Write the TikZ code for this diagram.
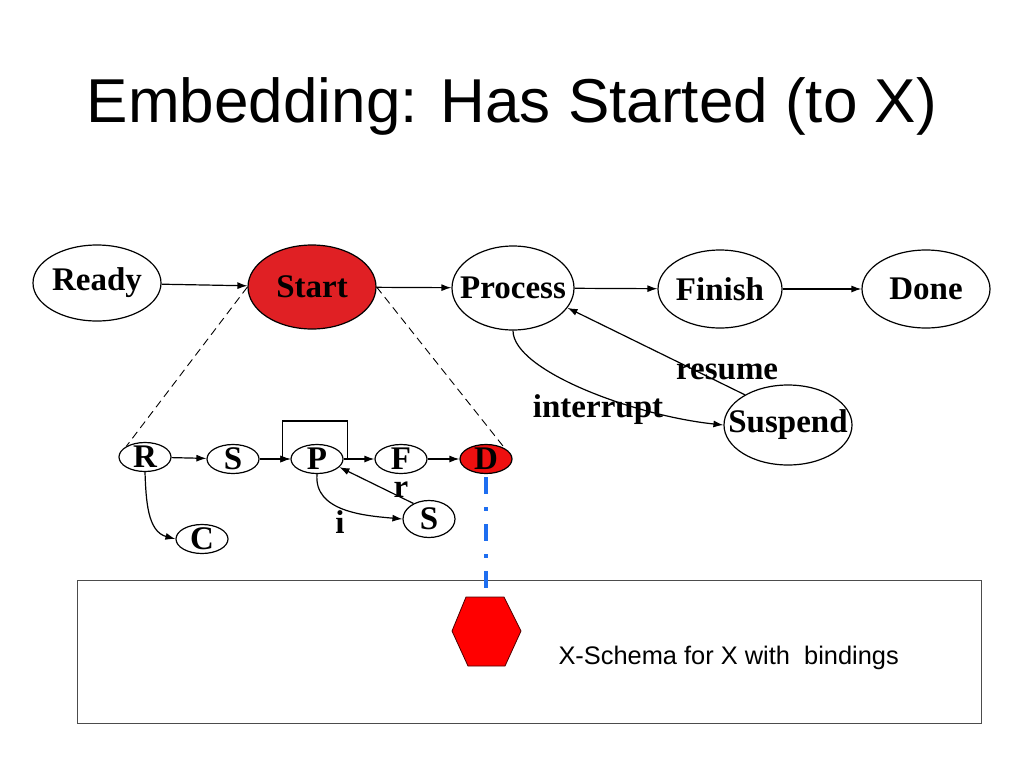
\documentclass[tikz,border=0pt]{standalone}
\usepackage{fontspec}
\setmainfont{Liberation Serif}
\newfontfamily\arialfont{Liberation Sans}
\usetikzlibrary{arrows.meta, shapes.geometric}
\definecolor{startred}{RGB}{224,32,36}
\definecolor{donered}{RGB}{238,16,16}
\definecolor{hexred}{RGB}{255,0,0}
\definecolor{bindblue}{RGB}{30,110,240}

\begin{document}
\begin{tikzpicture}[x=1pt, y=1pt, font=\fontsize{33}{36}\selectfont\bfseries,
		state/.style={draw, ellipse, line width=1.2pt, inner sep=0pt},
		sub/.style={draw, ellipse, line width=1.2pt, inner sep=0pt, minimum width=52pt, minimum height=29pt},
		arr/.style={-{Latex[length=10pt,width=7pt]}, line width=1.2pt}]
		
		\useasboundingbox (0,0) rectangle (1024,-768);
		
		% Title
		\node[font=\arialfont\fontsize{62}{70}\selectfont, anchor=base] (title) at (512,-122) {Embedding: Has Started (to X)};
		
		% Nodes
		\node[state, minimum width=128pt, minimum height=76pt, label=center:Ready] (ready) at (97,-283) {};
		\node[state, fill=startred, minimum width=128pt, minimum height=84pt, label=center:Start] (start) at (312,-287) {};
		\node[state, minimum width=122pt, minimum height=84pt, label=center:Process] (process) at (513,-288) {};
		\node[state, minimum width=124pt, minimum height=78pt, label=center:Finish] (finish) at (720,-289) {};
		\node[state, minimum width=128pt, minimum height=78pt, label=center:Done] (done) at (926,-289) {};
		\node[state, minimum width=128pt, minimum height=80pt, label=center:Suspend] (suspend) at (788,-425) {};
		
		% Sub-schema nodes
		\node[sub, label=center:R] (R) at (145,-457) {};
		\node[sub, label=center:S] (S) at (233,-459) {};
		\node[sub, label=center:P] (P) at (317,-459) {};
		\node[sub, label=center:F] (F) at (401,-459) {};
		\node[sub, fill=donered, label=center:D] (D) at (486,-459) {};
		\node[sub, label=center:C] (C) at (202,-539) {};
		\node[sub, minimum height=37pt, label=center:S] (S2) at (429,-519) {};
		
		% Arrows
		\draw[arr] (ready) -- (start);
		\draw[arr] (start) -- (process);
		\draw[arr] (process) -- (finish);
		\draw[arr] (finish) -- (done);
		\draw[arr] (suspend.145) -- (process.-20) node[pos=0.1, yshift=14pt] {resume};
		\draw[arr] (process.south) to[out=-90, in=174, out distance=40pt, in distance=90pt] (suspend.west);
		\node (interrupt) at (598,-410) {interrupt};
		
		% Sub-schema arrows
		\draw[arr] (R) -- (S);
		\draw[arr] (S) -- (P);
		\draw[arr] (P) -- (F);
		\draw[arr] (F) -- (D);
		\draw[arr] ([xshift=4pt]P.east) -- ++(0,38) -| ([xshift=-8pt]P.west) -- (P.west);
		\draw[arr] (R.south) to[out=-88, in=165] (C.west);
		\draw[arr] (P.south) to[out=-95, in=175] (S2.west);
		\draw[arr] (S2.135) -- (P.-20);
		\node (i) at (340,-522) {i};
		\node (r) at (401,-490) {r};
		
		% Zoom lines
		\draw[dash pattern=on 8pt off 5pt, line width=0.9pt] (start.west) -- (R.150);
		\draw[dash pattern=on 8pt off 5pt, line width=0.9pt] (start.east) -- (D.north east);
		
		% Schema box
		\draw[gray!60!black, line width=1pt] (77,-580) rectangle (981,-723);
		\coordinate (boxtop) at (486,-590);
		\draw[bindblue, line width=4pt, dash pattern=on 17pt off 13pt on 4pt off 13pt] ([yshift=-3pt]D.south) -- (boxtop);
		\filldraw[fill=hexred, draw=black!70!red, line width=0.8pt] (452,-631) -- (466,-597) -- (504,-597) -- (521,-631) -- (505,-666) -- (468,-666) -- cycle;
		\node[font=\arialfont\fontsize{25.4}{28}\selectfont, anchor=base west] (schema) at (555,-664) {X-Schema for X with~~bindings};
		
\end{tikzpicture}
\end{document}
